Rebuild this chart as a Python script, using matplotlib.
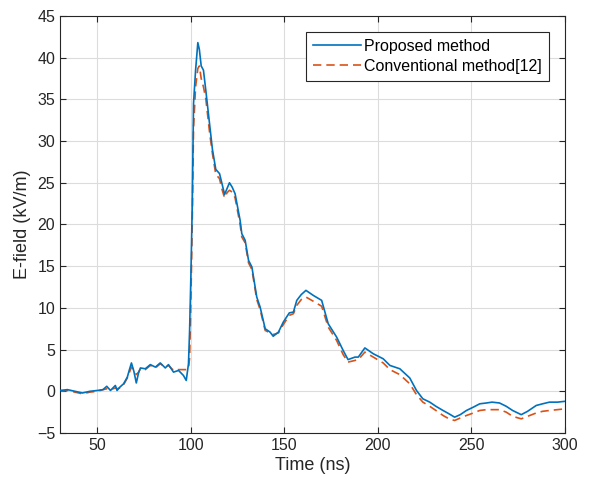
import matplotlib.pyplot as plt

plt.rcParams['font.family'] = ['Liberation Sans', 'DejaVu Sans']

# time axis (ns), shared by both series
time_ns = [30, 34, 38, 42, 46, 50, 53, 55, 57, 59.6, 60.5, 62, 64, 66, 67, 68.2, 69.5, 70.8, 72, 73,
           75.6, 78.3, 81, 83.6, 86.3, 88, 90.7, 93.4, 96, 97.5, 98.7, 99.3, 100, 100.7, 101.4, 102.5,
           103.7, 104.5, 105.5, 106.7, 108, 110, 111.5, 113.3, 115.3, 116.5, 118, 119.3, 120.6, 122,
           123.6, 126.3, 127.2, 129, 130.8, 132.6, 135.2, 137, 139.7, 142.3, 144, 146.8, 149.4, 152.6,
           154.8, 156.6, 159, 161.5, 165.4, 169.9, 173.4, 177.9, 181.4, 184, 187.7, 189.5, 193, 197.5,
           202.8, 206.4, 211.7, 217, 220.6, 224, 227.7, 231, 234.8, 238, 241, 244, 247.3, 251, 254.4,
           258, 261, 265, 268.6, 272, 276.6, 280, 284.6, 288, 291.7, 296, 300]

# E-field (kV/m), proposed method
e_proposed = [0.1, 0.2, 0.0, -0.2, 0.0, 0.1, 0.2, 0.6, 0.1, 0.7, 0.1, 0.5, 0.9, 1.7, 2.5, 3.4, 2.4, 1.0, 2.2, 2.8,
              2.7, 3.2, 2.9, 3.4, 2.8, 3.2, 2.3, 2.5, 1.9, 1.3, 3.3, 7.3, 14, 22, 34.5, 38.5,
              41.8, 41, 39, 38.5, 36, 32, 29, 26.6, 26.1, 25, 23.6, 24.3, 25, 24.5,
              23.7, 20.5, 18.9, 18.1, 15.7, 14.9, 11.3, 10.1, 7.5, 7.1, 6.6, 7.1, 8.3, 9.4,
              9.5, 10.9, 11.6, 12.1, 11.5, 10.9, 8.1, 6.5, 4.9, 3.8, 4.1, 4.1, 5.2, 4.5,
              3.9, 3.1, 2.7, 1.6, 0.1, -0.9, -1.3, -1.8, -2.3, -2.7, -3.1, -2.8, -2.3, -1.9, -1.5,
              -1.4, -1.3, -1.4, -1.8, -2.3, -2.8, -2.4, -1.7, -1.5, -1.3, -1.3, -1.2]

# E-field (kV/m), conventional method [12]
e_conventional = [0.0, 0.1, -0.1, -0.3, -0.1, 0.0, 0.2, 0.3, 0.2, 0.4, 0.3, 0.4, 0.8, 1.6, 2.2, 2.9, 2.6, 2.0, 2.3, 2.7,
                  2.6, 3.1, 2.8, 3.3, 2.9, 3.1, 2.5, 2.6, 2.6, 2.6, 2.7, 4.0, 11, 20, 31.5, 36.5,
                  38.7, 39, 37.5, 36.5, 35, 31, 28.5, 26, 25.5, 24.3, 23.2, 23.8, 24.1, 23.9,
                  23.2, 20, 18.5, 17.8, 15.4, 14.6, 11, 9.8, 7.3, 7.0, 6.8, 7.0, 8.0, 9.1,
                  9.3, 10.3, 11.0, 11.3, 10.8, 10.2, 7.7, 6.1, 4.4, 3.5, 3.7, 3.8, 4.7, 4.1,
                  3.4, 2.6, 2.0, 0.9, -0.4, -1.3, -1.8, -2.3, -2.9, -3.3, -3.5, -3.2, -2.9, -2.6, -2.3,
                  -2.2, -2.2, -2.2, -2.5, -3.0, -3.3, -3.0, -2.6, -2.4, -2.3, -2.2, -2.1]

fig = plt.figure(figsize=(5.91, 4.83), dpi=100)
ax = fig.add_axes([0.1015, 0.1035, 0.8545, 0.8635])

ax.plot(time_ns, e_proposed, color='#0072BD', lw=1.2, label='Proposed method', zorder=3)
ax.plot(time_ns, e_conventional, color='#D95319', lw=1.2, linestyle=(0, (5, 3)),
        label='Conventional method[12]', zorder=2)

ax.set_xlim(30, 300)
ax.set_ylim(-5, 45)
ax.set_xticks([50, 100, 150, 200, 250, 300])
ax.set_yticks(range(-5, 46, 5))
ax.grid(True, color='#dcdcdc', lw=0.8)
ax.set_axisbelow(True)
ax.tick_params(direction='in', top=True, right=True, labelsize=11.5, colors='#262626', length=4)
for s in ax.spines.values():
    s.set_color('#262626')
    s.set_linewidth(0.8)

ax.set_xlabel('Time (ns)', fontsize=13, color='#262626', labelpad=3)
ax.set_ylabel('E-field (kV/m)', fontsize=13, color='#262626', labelpad=4)

leg = ax.legend(loc='upper right', bbox_to_anchor=(0.968, 0.962), fontsize=11.5, fancybox=False,
                framealpha=1, edgecolor='#262626', handlelength=3.0, handletextpad=0.2,
                borderpad=0.45, labelspacing=0.3, borderaxespad=0)
leg.get_frame().set_linewidth(0.8)

fig.savefig('out.png', dpi=100)
